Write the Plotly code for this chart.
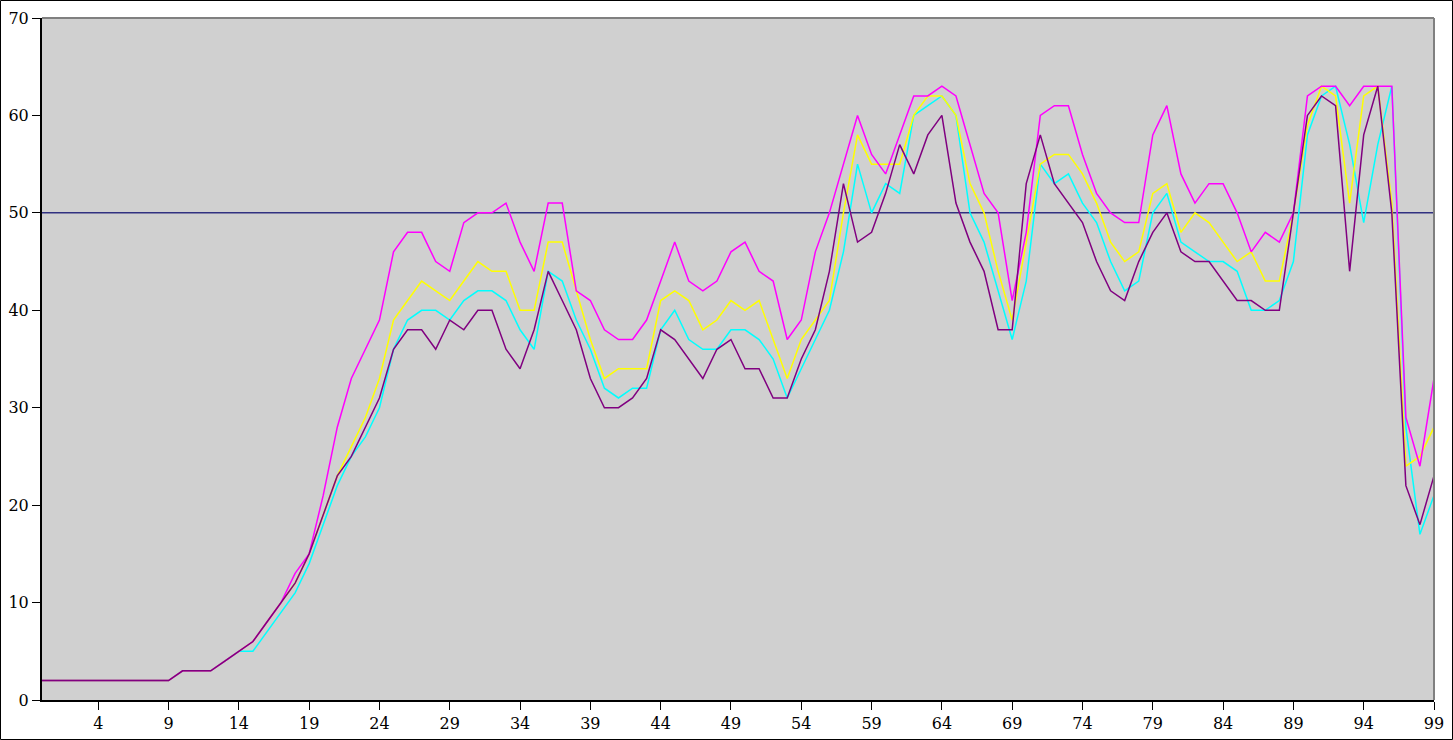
import plotly.graph_objects as go

x_vals = list(range(100))

purple = [2, 2, 2, 2, 2, 2, 2, 2, 2, 2,
          3, 3, 3, 4, 5, 6, 8, 10, 12, 15,
          19, 23, 25, 28, 31, 36, 38, 38, 36, 39,
          38, 40, 40, 36, 34, 38, 44, 41, 38, 33,
          30, 30, 31, 33, 38, 37, 35, 33, 36, 37,
          34, 34, 31, 31, 35, 38, 44, 53, 47, 48,
          52, 57, 54, 58, 60, 51, 47, 44, 38, 38,
          53, 58, 53, 51, 49, 45, 42, 41, 45, 48,
          50, 46, 45, 45, 43, 41, 41, 40, 40, 50,
          60, 62, 61, 44, 58, 63, 50, 22, 18, 23]

cyan = [2, 2, 2, 2, 2, 2, 2, 2, 2, 2,
        3, 3, 3, 4, 5, 5, 7, 9, 11, 14,
        18, 22, 25, 27, 30, 36, 39, 40, 40, 39,
        41, 42, 42, 41, 38, 36, 44, 43, 39, 36,
        32, 31, 32, 32, 38, 40, 37, 36, 36, 38,
        38, 37, 35, 31, 34, 37, 40, 46, 55, 50,
        53, 52, 60, 61, 62, 60, 50, 47, 42, 37,
        43, 55, 53, 54, 51, 49, 45, 42, 43, 50,
        52, 47, 46, 45, 45, 44, 40, 40, 41, 45,
        58, 62, 63, 57, 49, 57, 63, 28, 17, 21]

yellow = [2, 2, 2, 2, 2, 2, 2, 2, 2, 2,
          3, 3, 3, 4, 5, 6, 8, 10, 12, 15,
          19, 23, 26, 29, 33, 39, 41, 43, 42, 41,
          43, 45, 44, 44, 40, 40, 47, 47, 42, 37,
          33, 34, 34, 34, 41, 42, 41, 38, 39, 41,
          40, 41, 37, 33, 37, 39, 41, 50, 58, 55,
          55, 55, 60, 62, 62, 60, 53, 50, 44, 39,
          47, 55, 56, 56, 54, 51, 47, 45, 46, 52,
          53, 48, 50, 49, 47, 45, 46, 43, 43, 50,
          59, 63, 62, 51, 62, 63, 51, 24, 25, 28]

magenta = [2, 2, 2, 2, 2, 2, 2, 2, 2, 2,
           3, 3, 3, 4, 5, 6, 8, 10, 13, 15,
           21, 28, 33, 36, 39, 46, 48, 48, 45, 44,
           49, 50, 50, 51, 47, 44, 51, 51, 42, 41,
           38, 37, 37, 39, 43, 47, 43, 42, 43, 46,
           47, 44, 43, 37, 39, 46, 50, 55, 60, 56,
           54, 58, 62, 62, 63, 62, 57, 52, 50, 41,
           48, 60, 61, 61, 56, 52, 50, 49, 49, 58,
           61, 54, 51, 53, 53, 50, 46, 48, 47, 50,
           62, 63, 63, 61, 63, 63, 63, 29, 24, 33]

x_ticks = [4, 9, 14, 19, 24, 29, 34, 39, 44, 49, 54, 59, 64, 69, 74, 79, 84, 89, 94, 99]
y_ticks = [0, 10, 20, 30, 40, 50, 60, 70]
ref_level = 50

fig = go.Figure()
for vals, col in [(cyan, "#00ffff"), (yellow, "#ffff00"), (magenta, "#ff00ff"), (purple, "#800080")]:
    fig.add_trace(go.Scatter(x=x_vals, y=vals, mode="lines",
                             line=dict(color=col, width=1.5), showlegend=False,
                             hoverinfo="skip"))

W, H = 1453, 740
L, R, T, B = 42, 19, 18, 40
pw, ph = W - L - R, H - T - B

fig.update_layout(
    width=W, height=H,
    margin=dict(l=L, r=R, t=T, b=B, pad=0, autoexpand=False),
    paper_bgcolor="white",
    plot_bgcolor="#d0d0d0",
    font=dict(family="DejaVu Serif", size=16, color="black"),
    shapes=[
        dict(type="line", xref="paper", yref="y", x0=0, x1=1, y0=ref_level, y1=ref_level,
             line=dict(color="#303080", width=1.5), layer="below"),
        dict(type="line", xref="paper", yref="paper", x0=0, x1=1, y0=1, y1=1,
             line=dict(color="#808080", width=2)),
        dict(type="line", xref="paper", yref="paper", x0=1, x1=1, y0=0, y1=1,
             line=dict(color="#808080", width=2)),
        dict(type="rect", xref="paper", yref="paper",
             x0=(0.5 - L) / pw, x1=(W - 0.5 - L) / pw,
             y0=(H - T - B - (H - 0.5 - T)) / ph, y1=(H - T - B - (0.5 - T)) / ph,
             line=dict(color="black", width=1), fillcolor="rgba(0,0,0,0)"),
    ],
)
fig.update_xaxes(range=[0, 99], tickmode="array", tickvals=x_ticks,
                 ticktext=[str(t) for t in x_ticks], automargin=False,
                 showgrid=False, zeroline=False, showline=True, linecolor="black", linewidth=2,
                 ticks="outside", ticklen=8, tickwidth=1, tickcolor="black")
fig.update_yaxes(range=[0, 70], tickmode="array", tickvals=y_ticks, automargin=False,
                 showgrid=False, zeroline=False, showline=True, linecolor="black", linewidth=2,
                 ticks="outside", ticklen=8, tickwidth=1, tickcolor="black")

fig.write_html("out.html", config={"displayModeBar": False},
               post_script="document.body.style.margin='0';document.body.style.padding='0';document.body.style.overflow='hidden';")
